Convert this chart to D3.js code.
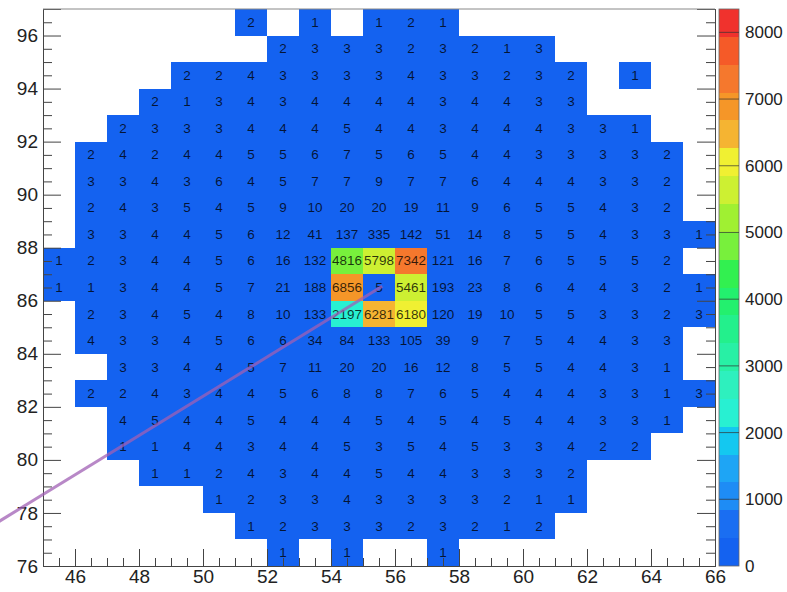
<!DOCTYPE html>
<html>
<head>
<meta charset="utf-8">
<script src="https://cdn.jsdelivr.net/npm/d3@7"></script>
<style>
  html, body { margin: 0; padding: 0; background: #fff; }
  svg { display: block; font-family: "Liberation Sans", Arial, Helvetica, sans-serif; }
</style>
</head>
<body>
<svg id="chart" width="787" height="592"></svg>
<script>
// Axis tick labels
const xTicks = [46, 48, 50, 52, 54, 56, 58, 60, 62, 64, 66];
const yTicks = [76, 78, 80, 82, 84, 86, 88, 90, 92, 94, 96];
const zTicks = [0, 1000, 2000, 3000, 4000, 5000, 6000, 7000, 8000];
const zMax = 8350;

// 20 palette levels, lowest to highest
const bandColors = [
  "#1462f0", "#1a6ef2", "#1e8cf5", "#1ea5f5", "#14c8f0",
  "#28f0d2", "#2ef0be", "#28f0a5", "#23f08c", "#23f06e",
  "#32f050", "#78f03c", "#a0f032", "#cdf032", "#f0f032",
  "#f5b432", "#f59628", "#f5782d", "#f55a28", "#f0322d"
];

// Bin contents: one row per y bin (lower edge), starting at x bin rowFirstBin; null = empty bin
const yRows = [96, 95, 94, 93, 92, 91, 90, 89, 88, 87, 86, 85, 84, 83, 82, 81, 80, 79, 78, 77, 76];
const rowFirstBin = [51, 52, 49, 48, 47, 46, 46, 46, 46, 45, 45, 46, 46, 47, 46, 47, 47, 48, 50, 51, 52];
const rowCounts = [
  [2, null, 1, null, 1, 2, 1],
  [2, 3, 3, 3, 2, 3, 2, 1, 3],
  [2, 2, 4, 3, 3, 3, 3, 4, 3, 3, 2, 3, 2, null, 1],
  [2, 1, 3, 4, 3, 4, 4, 4, 4, 3, 4, 4, 3, 3],
  [2, 3, 3, 3, 4, 4, 4, 5, 4, 4, 3, 4, 4, 4, 3, 3, 1],
  [2, 4, 2, 4, 4, 5, 5, 6, 7, 5, 6, 5, 4, 4, 3, 3, 3, 3, 2],
  [3, 3, 4, 3, 6, 4, 5, 7, 7, 9, 7, 7, 6, 4, 4, 4, 3, 3, 2],
  [2, 4, 3, 5, 4, 5, 9, 10, 20, 20, 19, 11, 9, 6, 5, 5, 4, 3, 2],
  [3, 3, 4, 4, 5, 6, 12, 41, 137, 335, 142, 51, 14, 8, 5, 5, 4, 3, 3, 1],
  [1, 2, 3, 4, 4, 5, 6, 16, 132, 4816, 5798, 7342, 121, 16, 7, 6, 5, 5, 5, 2],
  [1, 1, 3, 4, 4, 5, 7, 21, 188, 6856, 5, 5461, 193, 23, 8, 6, 4, 4, 3, 2, 1],
  [2, 3, 4, 5, 4, 8, 10, 133, 2197, 6281, 6180, 120, 19, 10, 5, 5, 3, 3, 2, 3],
  [4, 3, 3, 4, 5, 6, 6, 34, 84, 133, 105, 39, 9, 7, 5, 4, 4, 3, 3],
  [3, 3, 4, 4, 5, 7, 11, 20, 20, 16, 12, 8, 5, 5, 4, 4, 3, 1],
  [2, 2, 4, 3, 4, 4, 5, 6, 8, 8, 7, 6, 5, 4, 4, 4, 3, 3, 1, 3],
  [4, 5, 4, 4, 5, 4, 4, 4, 5, 4, 5, 4, 5, 4, 4, 3, 3, 1],
  [1, 1, 4, 4, 3, 4, 4, 5, 3, 5, 4, 5, 3, 3, 4, 2, 2],
  [1, 1, 2, 4, 3, 4, 4, 5, 4, 4, 3, 3, 3, 2],
  [1, 2, 3, 3, 4, 3, 3, 3, 3, 2, 1, 1],
  [1, 2, 3, 3, 3, 2, 3, 2, 1, 2],
  [1, null, 1, null, null, 1]
];

// Overlaid straight line (data coordinates of its two ends)
const guideX = [43.6, 55.6];
const guideY = [77.66, 86.55];

const svg = d3.select("#chart");
const frame = { left: 43, right: 715, top: 9, bottom: 566 };

const x = d3.scaleLinear().domain([45, 66]).range([frame.left, frame.right]);
const y = d3.scaleLinear().domain([76, 97]).range([frame.bottom, frame.top]);
const z = d3.scaleLinear().domain([0, zMax]).range([frame.bottom, frame.top]);
const levelOf = v => Math.max(0, Math.min(bandColors.length - 1, Math.floor(v / (zMax / bandColors.length))));

const cells = [];
yRows.forEach((yr, r) => {
  rowCounts[r].forEach((v, i) => {
    if (v !== null) cells.push({ bx: rowFirstBin[r] + i, by: yr, v });
  });
});

// Bins
const gCells = svg.append("g").attr("shape-rendering", "crispEdges");
gCells.selectAll("rect").data(cells).join("rect")
  .attr("x", d => x(d.bx))
  .attr("y", d => y(d.by + 1))
  .attr("width", d => x(d.bx + 1) - x(d.bx))
  .attr("height", d => y(d.by) - y(d.by + 1))
  .attr("fill", d => bandColors[levelOf(d.v)]);

// Bin content labels
svg.append("g").selectAll("text").data(cells).join("text")
  .attr("x", d => x(d.bx + 0.5))
  .attr("y", d => y(d.by + 0.5))
  .attr("text-anchor", "middle")
  .attr("dominant-baseline", "central")
  .attr("font-size", 13.5)
  .attr("fill", "#000")
  .attr("fill-opacity", 0.78)
  .text(d => d.v);

// Axes
const axisColor = "#444";
const styleAxis = g => {
  g.selectAll("path.domain").attr("stroke", axisColor);
  g.selectAll(".tick line").attr("stroke", axisColor);
  g.selectAll(".tick text").attr("fill", "#222").attr("font-size", 19)
    .attr("font-family", "Liberation Sans, Arial, sans-serif");
};
const xMinor = d3.range(45, 66.01, 0.5).filter(v => !xTicks.includes(v));
const yMinor = d3.range(76, 97.01, 0.5).filter(v => !yTicks.includes(v));

svg.append("g").attr("transform", `translate(0,${frame.bottom})`)
  .call(d3.axisBottom(x).tickValues(xMinor).tickSize(-8).tickFormat(""))
  .call(styleAxis);
svg.append("g").attr("transform", `translate(0,${frame.bottom})`)
  .call(d3.axisBottom(x).tickValues(xTicks).tickSize(-17).tickPadding(4).tickFormat(d3.format("d")))
  .call(styleAxis);

svg.append("g").attr("transform", `translate(${frame.left},0)`)
  .call(d3.axisLeft(y).tickValues(yMinor).tickSize(-9).tickFormat(""))
  .call(styleAxis);
svg.append("g").attr("transform", `translate(${frame.left},0)`)
  .call(d3.axisLeft(y).tickValues(yTicks).tickSize(-18).tickPadding(5).tickFormat(d3.format("d")))
  .call(styleAxis);

svg.append("g").attr("transform", `translate(${frame.right},0)`)
  .call(d3.axisRight(y).tickValues(yMinor).tickSize(-9).tickFormat(""))
  .call(styleAxis);
svg.append("g").attr("transform", `translate(${frame.right},0)`)
  .call(d3.axisRight(y).tickValues(yTicks).tickSize(-18).tickFormat(""))
  .call(styleAxis);

// Frame top edge
svg.append("line")
  .attr("x1", frame.left).attr("x2", frame.right)
  .attr("y1", frame.top).attr("y2", frame.top)
  .attr("stroke", "#888");

// Palette
const bar = { left: 719, right: 739 };
const bandStep = zMax / bandColors.length;
svg.append("g").attr("shape-rendering", "crispEdges")
  .selectAll("rect").data(bandColors).join("rect")
  .attr("x", bar.left)
  .attr("width", bar.right - bar.left)
  .attr("y", (c, i) => z((i + 1) * bandStep))
  .attr("height", (c, i) => z(i * bandStep) - z((i + 1) * bandStep))
  .attr("fill", c => c);
svg.append("rect")
  .attr("x", bar.left).attr("y", frame.top)
  .attr("width", bar.right - bar.left).attr("height", frame.bottom - frame.top)
  .attr("fill", "none").attr("stroke", "#666").attr("stroke-width", 0.8);

svg.append("g").attr("transform", `translate(${bar.right},0)`)
  .call(d3.axisRight(z).tickValues(zTicks).tickSize(0).tickPadding(6).tickFormat(d3.format("d")))
  .call(g => g.select("path.domain").remove())
  .call(g => g.selectAll(".tick text").attr("fill", "#222").attr("font-size", 17));
svg.append("g").selectAll("line").data(zTicks.slice(1)).join("line")
  .attr("x1", bar.left).attr("x2", bar.right)
  .attr("y1", d => z(d)).attr("y2", d => z(d))
  .attr("stroke", "#333").attr("stroke-opacity", 0.7);

// Overlaid line
svg.append("line")
  .attr("x1", x(guideX[0])).attr("y1", y(guideY[0]))
  .attr("x2", x(guideX[1])).attr("y2", y(guideY[1]))
  .attr("stroke", "#a060b4")
  .attr("stroke-width", 3)
  .attr("stroke-opacity", 0.75);
</script>
</body>
</html>
